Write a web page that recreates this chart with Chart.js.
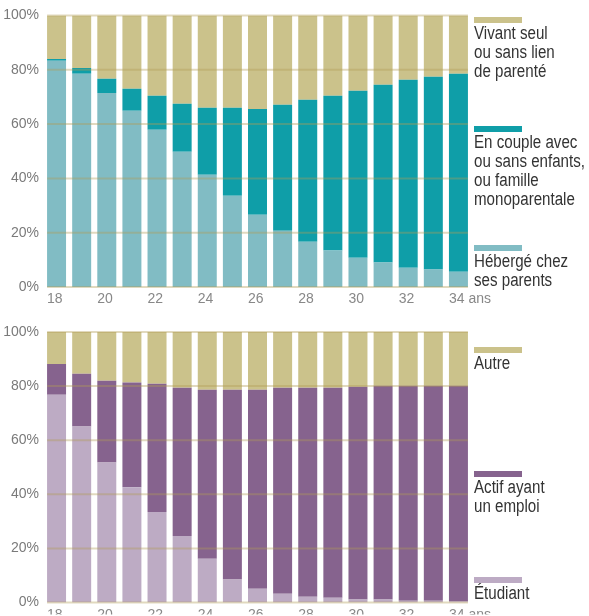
<!DOCTYPE html>
<html>
<head>
<meta charset="utf-8">
<script src="https://cdn.jsdelivr.net/npm/chart.js@4"></script>
<style>
  html, body { margin:0; padding:0; background:#fff; overflow:hidden; }
  #wrap { position:relative; width:589px; height:616px; }
  .pane { position:absolute; left:0; width:589px; }
  .leg { position:absolute; left:474px; font-family:'Liberation Sans',Arial,sans-serif; font-size:18px; line-height:19px; color:#333;
         white-space:nowrap; transform:scaleX(0.84); transform-origin:0 0; }
  .sw { position:absolute; left:474px; width:48px; height:6px; }
</style>
</head>
<body>
<div id="wrap">
  <div class="pane" style="top:0;height:310px"><canvas id="c1"></canvas></div>
  <div class="pane" style="top:310px;height:306px"><canvas id="c2"></canvas></div>
  <div id="legends"></div>
</div>
<script>
// ---- Data ----
const ages = ['18','19','20','21','22','23','24','25','26','27','28','29','30','31','32','33','34'];
const xTickLabels = ['18','','20','','22','','24','','26','','28','','30','','32','','34 ans'];
const yTickValues = [0, 20, 40, 60, 80, 100];

// Top chart (household situation, %)
const hebergeParents = [83.3,78.5,71.5,64.9,57.9,49.8,41.3,33.6,26.6,20.7,16.7,13.4,10.8,9.0,7.1,6.4,5.6];
const enCouple       = [0.7,2.2,5.2,8.1,12.5,17.7,24.7,32.4,39.0,46.4,52.3,57.0,61.5,65.5,69.2,71.0,72.9];
const vivantSeul     = [16.0,19.3,23.3,27.0,29.6,32.5,34.0,34.0,34.4,32.9,31.0,29.6,27.7,25.5,23.7,22.6,21.5];

// Bottom chart (activity status, %)
const etudiant = [76.8,65.1,51.8,42.6,33.5,24.6,16.2,8.5,5.1,3.3,2.2,1.8,1.1,1.1,0.7,0.7,0.4];
const actif    = [11.4,19.5,30.2,38.7,47.4,54.8,62.5,70.2,73.6,76.1,77.2,77.6,78.7,79.0,79.4,79.4,79.7];
const autre    = [11.8,15.4,18.0,18.7,19.1,20.6,21.3,21.3,21.3,20.6,20.6,20.6,20.2,19.9,19.9,19.9,19.9];

// Legend labels
const topLegendLabels = [
  ['Vivant seul','ou sans lien','de parenté'],
  ['En couple avec','ou sans enfants,','ou famille','monoparentale'],
  ['Hébergé chez','ses parents']
];
const bottomLegendLabels = [
  ['Autre'],
  ['Actif ayant','un emploi'],
  ['Étudiant']
];

// ---- Styles ----
const C_TAN = '#cbc28b';
const C_TEAL = '#0f9ea8';
const C_TEAL_L = '#81bcc4';
const C_PURP = '#86638e';
const C_PURP_L = '#bdabc4';
const FONT = "'Liberation Sans',Arial,sans-serif";

const gridOnTop = {
  id: 'gridOnTop',
  afterDatasetsDraw(chart) {
    const ctx = chart.ctx;
    const y = chart.scales.y;
    const meta = chart.getDatasetMeta(0);
    const first = meta.data[0], last = meta.data[meta.data.length - 1];
    const x0 = first.x - first.width / 2;
    const x1 = last.x + last.width / 2;
    ctx.save();
    ctx.strokeStyle = 'rgba(175,155,85,0.38)';
    ctx.lineWidth = 2;
    yTickValues.forEach(v => {
      const py = y.getPixelForValue(v);
      ctx.beginPath();
      ctx.moveTo(x0, py);
      ctx.lineTo(x1, py);
      ctx.stroke();
    });
    ctx.restore();
  }
};

function makeChart(id, datasets, padTop, xAxisHeight) {
  return new Chart(document.getElementById(id), {
    type: 'bar',
    data: { labels: ages, datasets: datasets.map(d => ({
      label: d.label, data: d.data, backgroundColor: d.color, borderWidth: 0,
      barPercentage: 0.756, categoryPercentage: 1.0
    })) },
    options: {
      responsive: true, maintainAspectRatio: false, animation: false,
      layout: { padding: { top: padTop, right: 118, left: 0, bottom: 0 }, autoPadding: false },
      plugins: { legend: { display: false }, tooltip: { enabled: false } },
      scales: {
        x: {
          stacked: true,
          grid: { display: false, drawTicks: false },
          border: { display: false },
          afterFit: s => { s.height = xAxisHeight; },
          ticks: {
            autoSkip: false, maxRotation: 0, align: 'start', labelOffset: -9.5, padding: 4,
            color: '#888', font: { family: FONT, size: 14 },
            callback: (v, i) => xTickLabels[i]
          }
        },
        y: {
          stacked: true, min: 0, max: 100,
          grid: { display: false, drawTicks: false },
          border: { display: false },
          afterFit: s => { s.width = 44; },
          afterBuildTicks: s => { s.ticks = yTickValues.map(v => ({ value: v })); },
          ticks: {
            padding: 5, color: '#7a7a7a', font: { family: FONT, size: 14 },
            callback: v => v + '%'
          }
        }
      }
    },
    plugins: [gridOnTop]
  });
}

makeChart('c1', [
  { label: topLegendLabels[2].join(' '), data: hebergeParents, color: C_TEAL_L },
  { label: topLegendLabels[1].join(' '), data: enCouple, color: C_TEAL },
  { label: topLegendLabels[0].join(' '), data: vivantSeul, color: C_TAN }
], 15.5, 23);

makeChart('c2', [
  { label: bottomLegendLabels[2].join(' '), data: etudiant, color: C_PURP_L },
  { label: bottomLegendLabels[1].join(' '), data: actif, color: C_PURP },
  { label: bottomLegendLabels[0].join(' '), data: autre, color: C_TAN }
], 22, 12);

// HTML legends (real text)
const legendSpec = [
  { lines: topLegendLabels[0], color: C_TAN, top: 17 },
  { lines: topLegendLabels[1], color: C_TEAL, top: 126 },
  { lines: topLegendLabels[2], color: C_TEAL_L, top: 245 },
  { lines: bottomLegendLabels[0], color: C_TAN, top: 347 },
  { lines: bottomLegendLabels[1], color: C_PURP, top: 471 },
  { lines: bottomLegendLabels[2], color: C_PURP_L, top: 577 }
];
const host = document.getElementById('legends');
legendSpec.forEach(it => {
  const sw = document.createElement('div');
  sw.className = 'sw'; sw.style.top = it.top + 'px'; sw.style.background = it.color;
  host.appendChild(sw);
  const tx = document.createElement('div');
  tx.className = 'leg'; tx.style.top = (it.top + 7) + 'px';
  tx.innerHTML = it.lines.join('<br>');
  host.appendChild(tx);
});
</script>
</body>
</html>
